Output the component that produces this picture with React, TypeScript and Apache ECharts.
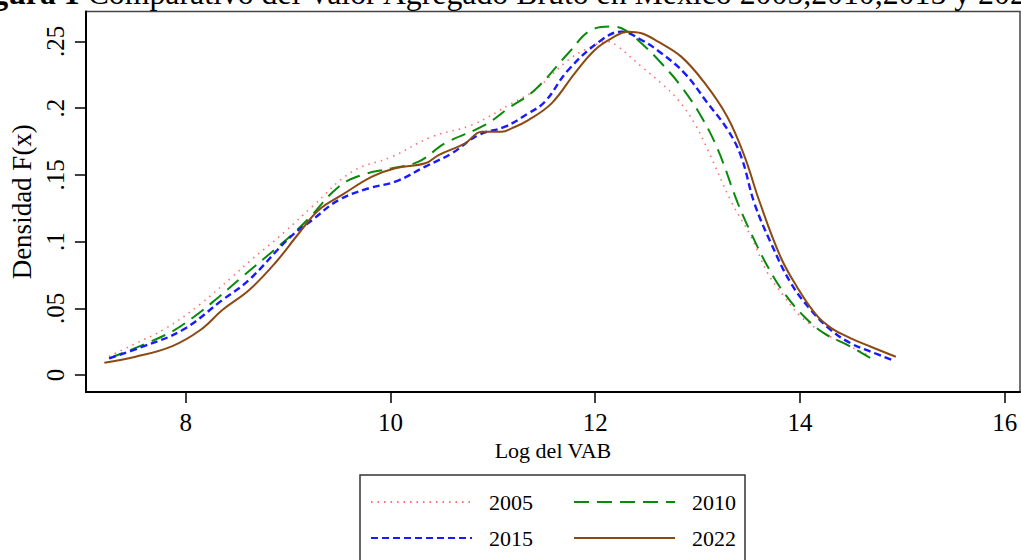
import React, { useEffect, useRef } from "react";
import * as echarts from "echarts";

const years = ["2005", "2010", "2015", "2022"];

const x2005 = [7.25, 7.48, 7.805, 8.13, 8.455, 8.65, 8.81, 8.97, 9.235, 9.625, 10.015, 10.405, 10.795, 11.185, 11.41, 11.737, 11.932, 12.127, 12.224, 12.452, 12.647, 12.81, 12.97, 13.1, 13.33, 13.523, 13.686, 13.848, 14.01, 14.238, 14.433, 14.66];
const y2005 = [0.014, 0.0225, 0.035, 0.0524, 0.0736, 0.087, 0.097, 0.1074, 0.1261, 0.1523, 0.1635, 0.1785, 0.1873, 0.2035, 0.2135, 0.236, 0.2448, 0.2497, 0.246, 0.231, 0.2185, 0.206, 0.1886, 0.1686, 0.1298, 0.1036, 0.0762, 0.0587, 0.0437, 0.0312, 0.0237, 0.015];

const x2010 = [7.25, 7.8, 8.065, 8.326, 8.553, 8.845, 9.07, 9.203, 9.495, 9.72, 10.015, 10.275, 10.534, 10.924, 11.152, 11.41, 11.737, 11.964, 12.159, 12.289, 12.452, 12.647, 12.842, 13.037, 13.2, 13.394, 13.523, 13.686, 13.848, 14.043, 14.238, 14.466, 14.693];
const y2010 = [0.0125, 0.03, 0.0427, 0.0587, 0.0736, 0.0924, 0.1074, 0.1174, 0.1411, 0.1498, 0.1549, 0.1598, 0.1736, 0.1873, 0.1998, 0.2135, 0.241, 0.2585, 0.261, 0.2585, 0.2485, 0.2335, 0.216, 0.1935, 0.1686, 0.1286, 0.1062, 0.0811, 0.0612, 0.0437, 0.0312, 0.0225, 0.0125];

const x2015 = [7.253, 7.578, 7.968, 8.358, 8.618, 9.008, 9.235, 9.495, 9.788, 10.047, 10.34, 10.6, 10.86, 11.12, 11.347, 11.509, 11.737, 12.062, 12.257, 12.452, 12.647, 12.874, 13.1, 13.296, 13.426, 13.556, 13.718, 13.913, 14.108, 14.303, 14.498, 14.693, 14.904];
const y2015 = [0.0125, 0.0212, 0.0337, 0.0562, 0.0712, 0.1024, 0.1161, 0.1311, 0.1399, 0.1448, 0.1561, 0.1661, 0.1798, 0.186, 0.196, 0.2047, 0.2285, 0.251, 0.2572, 0.251, 0.241, 0.226, 0.2035, 0.1835, 0.1636, 0.1286, 0.0987, 0.0687, 0.0487, 0.0337, 0.0237, 0.0175, 0.0112];

const x2022 = [7.205, 7.51, 7.87, 8.143, 8.358, 8.62, 8.874, 9.108, 9.3, 9.527, 9.82, 10.047, 10.34, 10.47, 10.73, 10.892, 11.087, 11.184, 11.347, 11.574, 11.8, 11.996, 12.159, 12.322, 12.452, 12.614, 12.84, 13.06, 13.29, 13.46, 13.6, 13.81, 13.97, 14.16, 14.31, 14.498, 14.693, 14.937];
const y2022 = [0.0092, 0.0137, 0.0217, 0.0337, 0.0487, 0.0637, 0.0839, 0.1064, 0.1236, 0.1349, 0.1486, 0.1549, 0.1586, 0.1648, 0.1736, 0.1823, 0.1823, 0.1848, 0.191, 0.2035, 0.226, 0.2435, 0.2522, 0.2572, 0.256, 0.2497, 0.2385, 0.2197, 0.1935, 0.1636, 0.1311, 0.0886, 0.0662, 0.045, 0.035, 0.0275, 0.0212, 0.0137];

const xTicks = [8, 10, 12, 14, 16];
const yTicks = [0, 0.05, 0.1, 0.15, 0.2, 0.25];

const titleBold = "Figura 1";
const titleRest = " Comparativo del Valor Agregado Bruto en México 2005,2010,2015 y 2022";

const FONT = "'Liberation Serif', 'Times New Roman', serif";

function pairs(xs: number[], ys: number[]) {
  return xs.map((x, i) => [x, ys[i]]);
}

export default function App() {
  const ref = useRef<HTMLDivElement>(null);
  useEffect(() => {
    if (!ref.current) return;
    const chart = echarts.init(ref.current, null, { renderer: "svg" });
    const styles = [
      { color: "#ff7070", width: 1.6, type: [1.5, 5] as any },
      { color: "#0a8a0a", width: 2, type: [15, 8] as any },
      { color: "#1a1aff", width: 2.4, type: [7, 4] as any },
      { color: "#8b4a14", width: 2, type: "solid" as any },
    ];
    const data = [pairs(x2005, y2005), pairs(x2010, y2010), pairs(x2015, y2015), pairs(x2022, y2022)];
    const legendCommon = {
      left: 370,
      orient: "horizontal",
      itemWidth: 101,
      itemHeight: 22,
      itemGap: 40,
      padding: 0,
      selectedMode: false,
      itemStyle: { color: "rgba(0,0,0,0)", borderColor: "rgba(0,0,0,0)", borderWidth: 0 },
      textStyle: { fontFamily: FONT, fontSize: 22, color: "#000", padding: [0, 0, 0, 12] },
    };
    chart.setOption({
      animation: false,
      backgroundColor: "#fff",
      textStyle: { fontFamily: FONT },
      grid: {
        left: 84,
        top: 11.5,
        right: 1,
        bottom: 168,
        show: true,
        borderColor: "#444",
        borderWidth: 1.5,
      },
      xAxis: {
        type: "value",
        min: 7.025,
        max: 16.15,
        name: "Log del VAB",
        nameLocation: "middle",
        nameGap: 46,
        nameTextStyle: { fontFamily: FONT, fontSize: 22, color: "#000" },
        axisLine: { show: true, onZero: false, lineStyle: { color: "#000", width: 2 } },
        axisTick: { show: true, length: 11, customValues: xTicks, lineStyle: { color: "#000", width: 1.5 } },
        axisLabel: { customValues: xTicks, fontFamily: FONT, fontSize: 25, color: "#000", margin: 18 },
        splitLine: { show: false },
      },
      yAxis: {
        type: "value",
        min: -0.0127,
        max: 0.2723,
        name: "Densidad F(x)",
        nameLocation: "middle",
        nameGap: 44,
        nameTextStyle: { fontFamily: FONT, fontSize: 27, color: "#000" },
        axisLine: { show: true, onZero: false, lineStyle: { color: "#000", width: 2 } },
        axisTick: { show: true, length: 11, customValues: yTicks, lineStyle: { color: "#000", width: 1.5 } },
        axisLabel: {
          customValues: yTicks,
          rotate: 90,
          fontFamily: FONT,
          fontSize: 25,
          color: "#000",
          margin: 18,
          formatter: (v: number) => (v === 0 ? "0" : String(+v.toFixed(2)).replace(/^0/, "")),
        },
        splitLine: { show: false },
      },
      legend: [
        { ...legendCommon, top: 491, data: [years[0], years[1]] },
        { ...legendCommon, top: 527, data: [years[2], years[3]] },
      ],
      graphic: [
        {
          type: "rect",
          shape: { x: 360, y: 475, width: 385, height: 110 },
          style: { fill: "none", stroke: "#333", lineWidth: 1.5 },
          silent: true,
        },
        {
          type: "text",
          left: -36,
          top: -23,
          style: {
            text: "{b|" + titleBold + "}{r|" + titleRest + "}",
            rich: {
              b: { fontFamily: FONT, fontSize: 31.8, fontWeight: "bold", fill: "#000" } as any,
              r: { fontFamily: FONT, fontSize: 31.8, fill: "#000" } as any,
            },
          },
          silent: true,
        },
      ],
      series: years.map((y, i) => ({
        name: y,
        type: "line",
        data: data[i],
        symbol: "none",
        showSymbol: false,
        smooth: 0.4,
        lineStyle: { color: styles[i].color, width: styles[i].width, type: styles[i].type },
        itemStyle: { color: styles[i].color },
        z: 2 + i,
      })),
    });
    return () => chart.dispose();
  }, []);
  return <div ref={ref} style={{ width: 1021, height: 560, position: "absolute", left: 0, top: 0 }} />;
}
